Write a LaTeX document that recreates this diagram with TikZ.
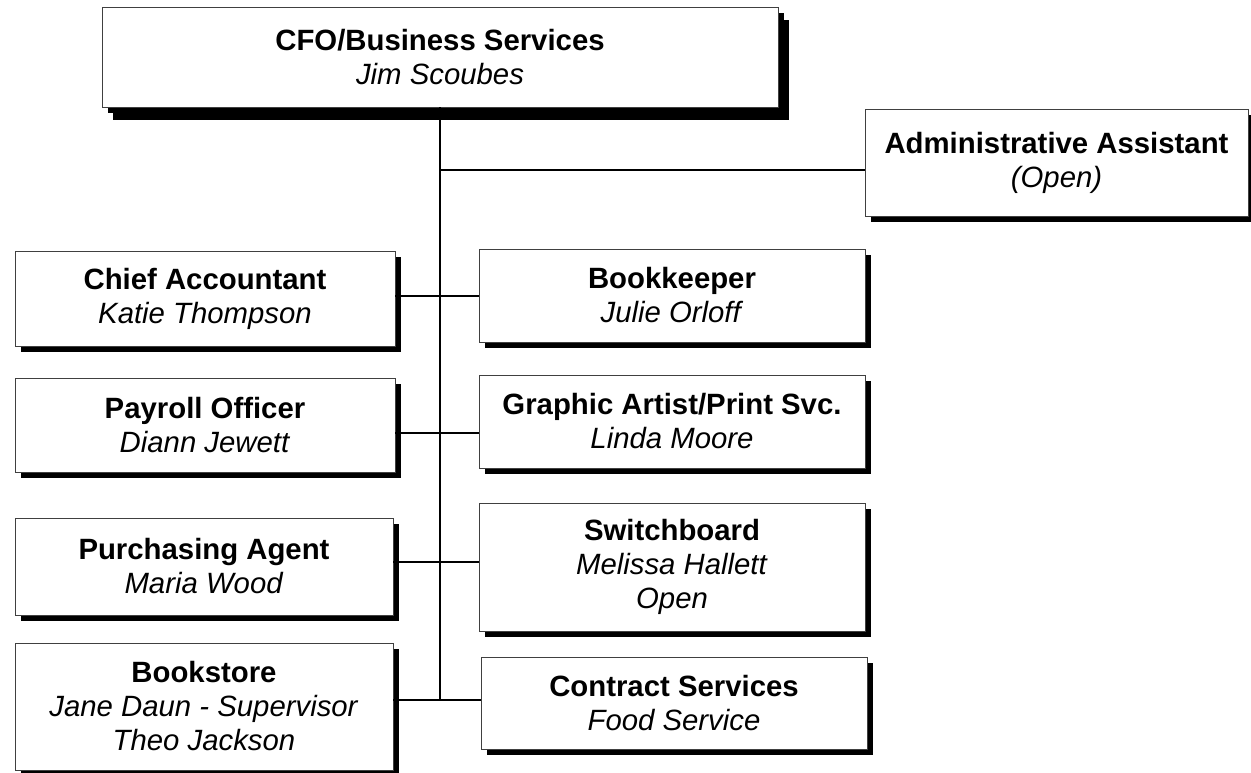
\documentclass[tikz,border=0pt]{standalone}
\usepackage{fontspec}
\setmainfont{Liberation Sans}
\usetikzlibrary{shadows}

\begin{document}
\begin{tikzpicture}[x=0.75pt,y=-0.75pt,
    post/.style={draw=black!75, fill=white, line width=0.6pt, align=center,
      inner sep=0pt, font=\fontsize{22}{25.5}\selectfont,
      drop shadow={shadow xshift=4.5pt, shadow yshift=-4.5pt, opacity=1, fill=black}},
    link/.style={draw=black, line width=0.9pt}]
  \useasboundingbox (0,0) rectangle (1251,773);
  % top of the chart
  \node [post, minimum width=507pt, minimum height=75pt,
    drop shadow={shadow xshift=8.25pt, shadow yshift=-9.75pt, opacity=1, fill=black}]
    (cfo) at (440,57) {\textbf{CFO/Business Services}\\\textit{Jim Scoubes}};
  \node [post, minimum width=287.25pt, minimum height=80.25pt]
    (admin) at (1056.5,162.5) {\textbf{Administrative Assistant}\\\textit{(Open)}};
  % left column
  \node [post, minimum width=285pt, minimum height=71.25pt]
    (chief) at (205,298.5) {\textbf{Chief Accountant}\\\textit{Katie Thompson}};
  \node [post, minimum width=285pt, minimum height=70.5pt]
    (payroll) at (205,425) {\textbf{Payroll Officer}\\\textit{Diann Jewett}};
  \node [post, minimum width=283.5pt, minimum height=72.75pt]
    (purchase) at (204,566.5) {\textbf{Purchasing Agent}\\\textit{Maria Wood}};
  \node [post, minimum width=283.5pt, minimum height=95.25pt]
    (bookstore) at (204,706.5) {\textbf{Bookstore}\\\textit{Jane Daun - Supervisor}\\\textit{Theo Jackson}};
  % right column
  \node [post, minimum width=289.5pt, minimum height=69.75pt]
    (keeper) at (672,295.5) {\textbf{Bookkeeper}\\\textit{Julie Orloff}};
  \node [post, minimum width=289.5pt, minimum height=69.75pt]
    (graphic) at (672,421.5) {\textbf{Graphic Artist/Print Svc.}\\\textit{Linda Moore}};
  \node [post, minimum width=289.5pt, minimum height=96pt]
    (switch) at (672,567) {\textbf{Switchboard}\\\textit{Melissa Hallett}\\\textit{Open}};
  \node [post, minimum width=289.5pt, minimum height=69pt]
    (contract) at (674,703) {\textbf{Contract Services}\\\textit{Food Service}};
  % connectors
  \coordinate (j0) at (440,170);
  \coordinate (j1) at (440,296);
  \coordinate (j2) at (440,433);
  \coordinate (j3) at (440,562);
  \coordinate (j4) at (440,700);
  \draw [link] (cfo.south) -- (j4);
  \draw [link] (j0) -- (j0 -| admin.west);
  \draw [link] (j1 -| chief.east) -- (j1 -| keeper.west);
  \draw [link] (j2 -| payroll.east) -- (j2 -| graphic.west);
  \draw [link] (j3 -| purchase.east) -- (j3 -| switch.west);
  \draw [link] (j4 -| bookstore.east) -- (j4 -| contract.west);
\end{tikzpicture}
\end{document}
